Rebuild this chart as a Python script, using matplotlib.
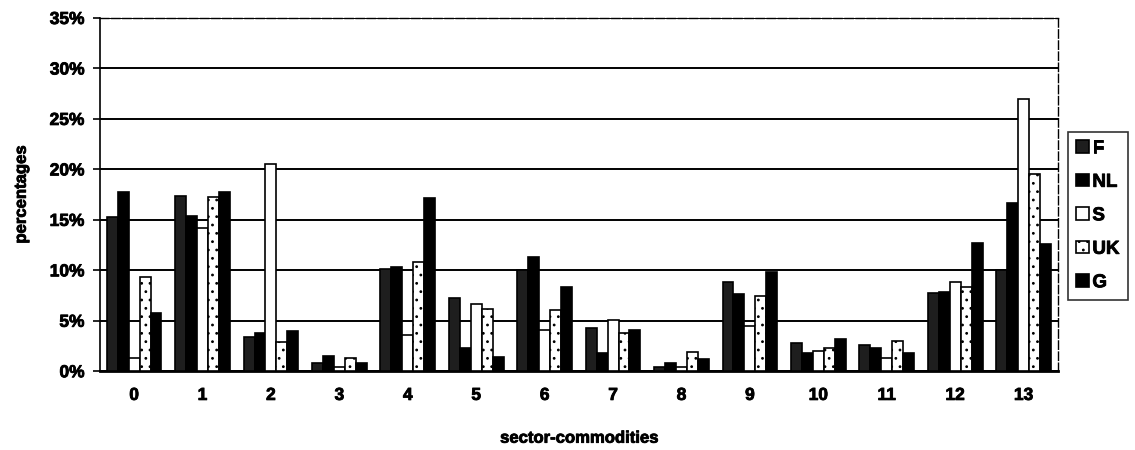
import matplotlib
matplotlib.use("Agg")
import matplotlib.pyplot as plt
import matplotlib.patheffects as pe
import numpy as np
from matplotlib.ticker import FuncFormatter

plt.rcParams["font.family"] = ["Liberation Sans", "DejaVu Sans"]
plt.rcParams["font.weight"] = "bold"
plt.rcParams["hatch.linewidth"] = 0.8

categories = [str(i) for i in range(14)]
countries = ["F", "NL", "S", "UK", "G"]

# shares per sector-commodity, in percent
share_f = [15.3, 17.4, 3.4, 0.8, 10.1, 7.3, 10.0, 4.3, 0.4, 8.8, 2.8, 2.6, 7.8, 10.0]
share_nl = [17.8, 15.4, 3.8, 1.5, 10.3, 2.3, 11.3, 1.8, 0.8, 7.7, 1.8, 2.3, 7.9, 16.7]
share_s = [1.3, 14.2, 20.5, 0.4, 3.6, 6.7, 4.1, 5.1, 0.4, 4.5, 2.0, 1.3, 8.8, 27.0]
share_uk = [9.3, 17.3, 2.9, 1.3, 10.8, 6.2, 6.1, 3.8, 1.9, 7.5, 2.3, 3.0, 8.3, 19.5]
share_g = [5.8, 17.8, 4.0, 0.8, 17.2, 1.4, 8.3, 4.1, 1.2, 9.8, 3.2, 1.8, 12.7, 12.6]

series = [share_f, share_nl, share_s, share_uk, share_g]
faces = ["#1e1e1e", "black", "white", "white", "black"]
hatches = [None, None, None, "..", None]

# a thin outline makes the bold labels a little heavier
heavy = [pe.withStroke(linewidth=0.6, foreground="black")]

fig = plt.figure(figsize=(11.35, 4.5), dpi=100)
ax = fig.add_axes([0.088, 0.175, 0.844, 0.785])

x = np.arange(len(categories))
n = len(series)
width = 0.8 / n
for i, (vals, fc, hatch, name) in enumerate(zip(series, faces, hatches, countries)):
    offs = (i - (n - 1) / 2) * width
    ax.bar(x + offs, np.array(vals) / 100.0, width, color=fc, edgecolor="black",
           linewidth=1.2, hatch=hatch, label=name, zorder=3)

ax.set_xlim(-0.5, len(categories) - 0.5)
ax.set_ylim(0, 0.35)
ax.set_yticks(np.arange(0, 0.351, 0.05))
ax.yaxis.set_major_formatter(FuncFormatter(lambda v, _: f"{v * 100:.0f}%"))
ax.set_xticks(x)
ax.set_xticklabels(categories)
ax.tick_params(axis="x", length=0, pad=12, labelsize=12.5)
ax.tick_params(axis="y", direction="out", length=5, width=1.2, labelsize=12.5, pad=6)
for lbl in ax.get_xticklabels() + ax.get_yticklabels():
    lbl.set_path_effects(heavy)

ax.yaxis.grid(True, color="black", linewidth=1.4, zorder=0)
ax.set_axisbelow(True)

ax.spines["bottom"].set_linewidth(2.0)
ax.spines["left"].set_linewidth(1.2)
for side in ("top", "right"):
    ax.spines[side].set_linewidth(1.0)
    ax.spines[side].set_linestyle((0, (6, 2)))

xl = ax.set_xlabel("sector-commodities", fontsize=12, fontweight="bold", labelpad=20)
yl = ax.set_ylabel("percentages", fontsize=12, fontweight="bold", labelpad=15)
xl.set_path_effects(heavy)
yl.set_path_effects(heavy)

leg = fig.legend(loc="upper left", bbox_to_anchor=(0.941, 0.707), frameon=True,
                 fancybox=False, edgecolor="black", fontsize=13.5,
                 handlelength=0.65, handleheight=0.65, handletextpad=0.2,
                 labelspacing=0.88, borderpad=0.45, borderaxespad=0.0)
leg.get_frame().set_linewidth(1.2)
for t in leg.get_texts():
    t.set_path_effects(heavy)

fig.savefig("out.png", dpi=100)
